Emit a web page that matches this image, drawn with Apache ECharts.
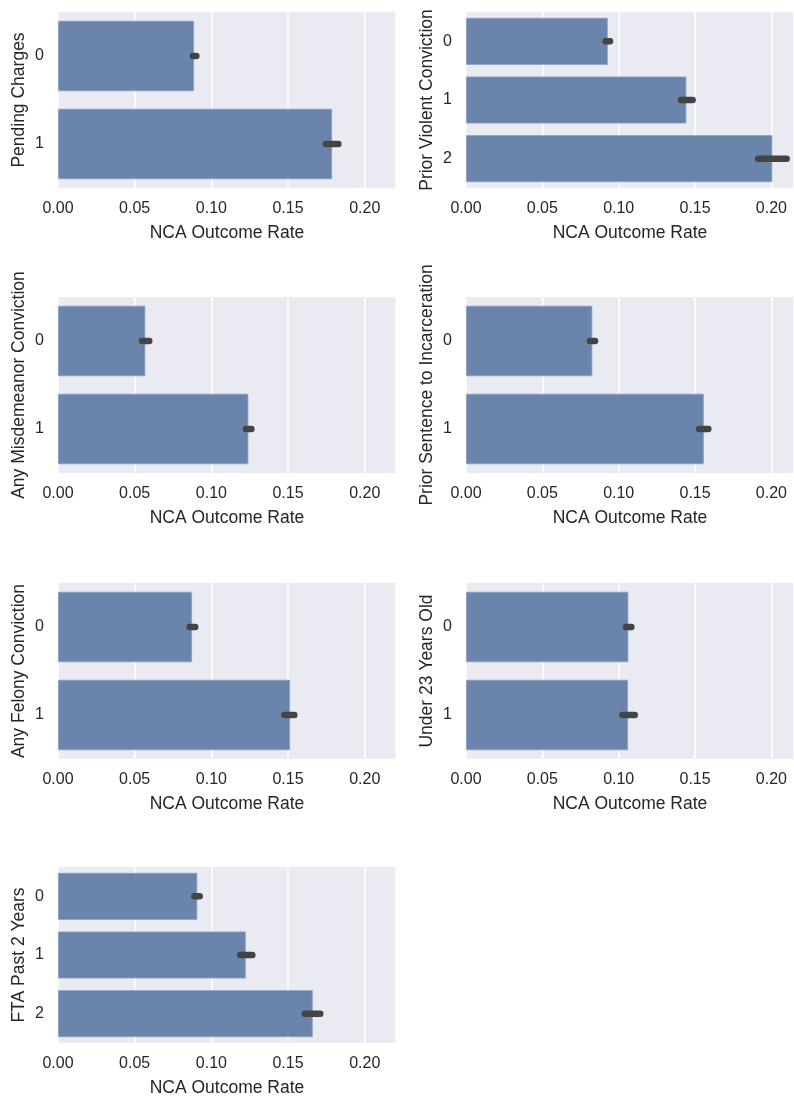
<!DOCTYPE html>
<html>
<head>
<meta charset="utf-8">
<script src="https://cdn.jsdelivr.net/npm/echarts@6/dist/echarts.min.js"></script>
<style>
html,body{margin:0;padding:0;background:#fff;}
#chart{width:794px;height:1101px;}
</style>
</head>
<body>
<div id="chart"></div>
<script>
// ---- data ----
const panelNames = ['Pending Charges','Prior Violent Conviction','Any Misdemeanor Conviction','Prior Sentence to Incarceration','Any Felony Conviction','Under 23 Years Old','FTA Past 2 Years'];
const cats2 = ['0','1'];
const cats3 = ['0','1','2'];
const xAxisTitle = 'NCA Outcome Rate';

const pendingRate = [0.0887, 0.1787];
const pendingLo   = [0.0880, 0.1746];
const pendingHi   = [0.0902, 0.1828];

const violentRate = [0.0928, 0.1443, 0.2006];
const violentLo   = [0.0914, 0.1408, 0.1913];
const violentHi   = [0.0943, 0.1484, 0.2100];

const misdRate = [0.0569, 0.1241];
const misdLo   = [0.0548, 0.1226];
const misdHi   = [0.0595, 0.1261];

const incarcRate = [0.0827, 0.1557];
const incarcLo   = [0.0812, 0.1527];
const incarcHi   = [0.0845, 0.1587];

const felonyRate = [0.0874, 0.1513];
const felonyLo   = [0.0858, 0.1476];
const felonyHi   = [0.0895, 0.1541];

const under23Rate = [0.1063, 0.1061];
const under23Lo   = [0.1048, 0.1024];
const under23Hi   = [0.1083, 0.1105];

const ftaRate = [0.0908, 0.1224, 0.1661];
const ftaLo   = [0.0889, 0.1188, 0.1609];
const ftaHi   = [0.0924, 0.1267, 0.1710];

const panels = [
  {cats: cats2, rate: pendingRate, lo: pendingLo, hi: pendingHi},
  {cats: cats3, rate: violentRate, lo: violentLo, hi: violentHi},
  {cats: cats2, rate: misdRate, lo: misdLo, hi: misdHi},
  {cats: cats2, rate: incarcRate, lo: incarcLo, hi: incarcHi},
  {cats: cats2, rate: felonyRate, lo: felonyLo, hi: felonyHi},
  {cats: cats2, rate: under23Rate, lo: under23Lo, hi: under23Hi},
  {cats: cats3, rate: ftaRate, lo: ftaLo, hi: ftaHi}
];

// ---- layout ----
const colLeft = [58, 466];
const colWidth = [338, 328];
const colMax = [0.2204, 0.2148];
const rowTop = [12, 297, 583, 867];
const plotH = 176;

const FONT = "'Liberation Sans', Arial, sans-serif";
const TXT = '#262626';
const BAR = '#6a84ab';
const ERR = '#444444';
const BG = '#eaeaf2';

const grids = [], xAxes = [], yAxes = [], series = [];
panels.forEach((p, i) => {
  const col = i % 2, row = Math.floor(i / 2);
  grids.push({left: colLeft[col], top: rowTop[row], width: colWidth[col], height: plotH,
    show: true, backgroundColor: BG, borderWidth: 0, containLabel: false});
  xAxes.push({type: 'value', gridIndex: i, min: 0, max: colMax[col], interval: 0.05,
    axisLine: {show: false}, axisTick: {show: false},
    splitLine: {show: true, lineStyle: {color: '#ffffff', width: 1.5}},
    axisLabel: {show: true, color: TXT, fontSize: 16, fontFamily: FONT, margin: 13,
      formatter: v => (v > colMax[col] ? '' : v.toFixed(2)), showMaxLabel: false},
    name: xAxisTitle, nameLocation: 'middle', nameGap: 36,
    nameTextStyle: {color: TXT, fontSize: 17.5, fontFamily: FONT}});
  yAxes.push({type: 'category', gridIndex: i, data: p.cats, inverse: true,
    axisLine: {show: false}, axisTick: {show: false}, splitLine: {show: false},
    axisLabel: {color: TXT, fontSize: 16, fontFamily: FONT, margin: 14},
    name: panelNames[i], nameLocation: 'middle', nameGap: 30, nameRotate: 90,
    nameTextStyle: {color: TXT, fontSize: 17.5, fontFamily: FONT}});
  series.push({type: 'bar', xAxisIndex: i, yAxisIndex: i, data: p.rate,
    barCategoryGap: '20%', silent: true,
    itemStyle: {color: BAR, borderColor: '#8a9fc2', borderWidth: 0.8}, z: 2});
  const errData = p.cats.map((c, k) => [k, p.lo[k], p.hi[k]]);
  series.push({type: 'custom', xAxisIndex: i, yAxisIndex: i, data: errData, z: 5, silent: true,
    renderItem: function (params, api) {
      const a = api.coord([api.value(1), api.value(0)]);
      const b = api.coord([api.value(2), api.value(0)]);
      return {type: 'line', shape: {x1: a[0], y1: a[1], x2: b[0], y2: b[1]},
        style: {stroke: ERR, lineWidth: 6.5, lineCap: 'round'}};
    },
    encode: {x: [1, 2], y: 0}});
});

const chart = echarts.init(document.getElementById('chart'), null, {renderer: 'canvas'});
chart.setOption({animation: false, backgroundColor: '#ffffff',
  grid: grids, xAxis: xAxes, yAxis: yAxes, series: series});
</script>
</body>
</html>
